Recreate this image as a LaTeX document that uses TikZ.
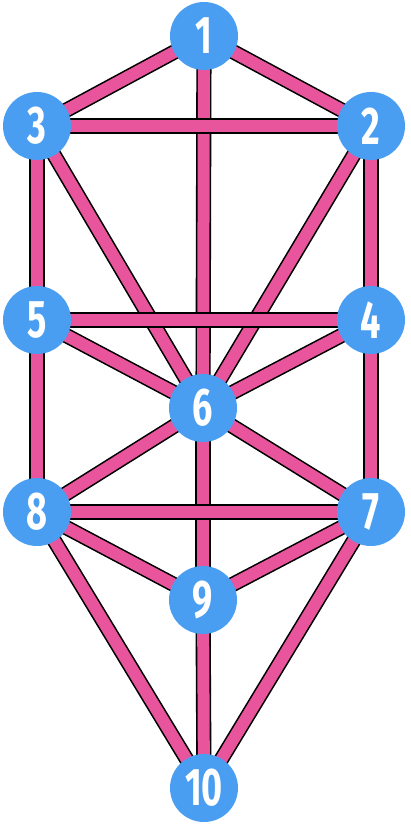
\documentclass[tikz,border=0pt]{standalone}
\usepackage{fontspec}
\usetikzlibrary{backgrounds}
\newfontfamily\sefirafont{Fira Sans}
\definecolor{sefblue}{HTML}{4A9EF2}
\definecolor{chanpink}{HTML}{E9559D}
\tikzset{
  sefira/.style={circle, fill=sefblue, minimum size=68pt, inner sep=0pt, text=white,
    font=\sefirafont\bfseries\fontsize{53}{53}\selectfont},
  channel/.style={line width=1.6pt, draw=black, double=chanpink, double distance=12pt}
}
\newcommand{\num}[1]{\scalebox{0.68}[1]{#1}}
\begin{document}
\begin{tikzpicture}[x=1pt, y=-1pt]
  \useasboundingbox (0,0) rectangle (410,828);
  \node[sefira] (n1) at (204, 36) {\num{1}};
  \node[sefira] (n2) at (371, 126) {\num{2}};
  \node[sefira] (n3) at (37, 126) {\num{3}};
  \node[sefira] (n4) at (371, 320) {\num{4}};
  \node[sefira] (n5) at (37, 320) {\num{5}};
  \node[sefira] (n6) at (203, 408) {\num{6}};
  \node[sefira] (n7) at (371, 512) {\num{7}};
  \node[sefira] (n8) at (37, 512) {\num{8}};
  \node[sefira] (n9) at (203, 600) {\num{9}};
  \node[sefira] (n10) at (204, 788) {\num{10}};
  \begin{scope}[on background layer]
    \foreach \a/\b in {1/3, 1/2, 1/6, 3/2, 3/5, 2/4, 3/6, 2/6, 5/4, 5/6, 4/6,
                       5/8, 4/7, 6/8, 6/7, 6/9, 8/7, 8/9, 7/9, 8/10, 7/10, 9/10}
      \draw[channel] (n\a.center) -- (n\b.center);
  \end{scope}
\end{tikzpicture}
\end{document}
